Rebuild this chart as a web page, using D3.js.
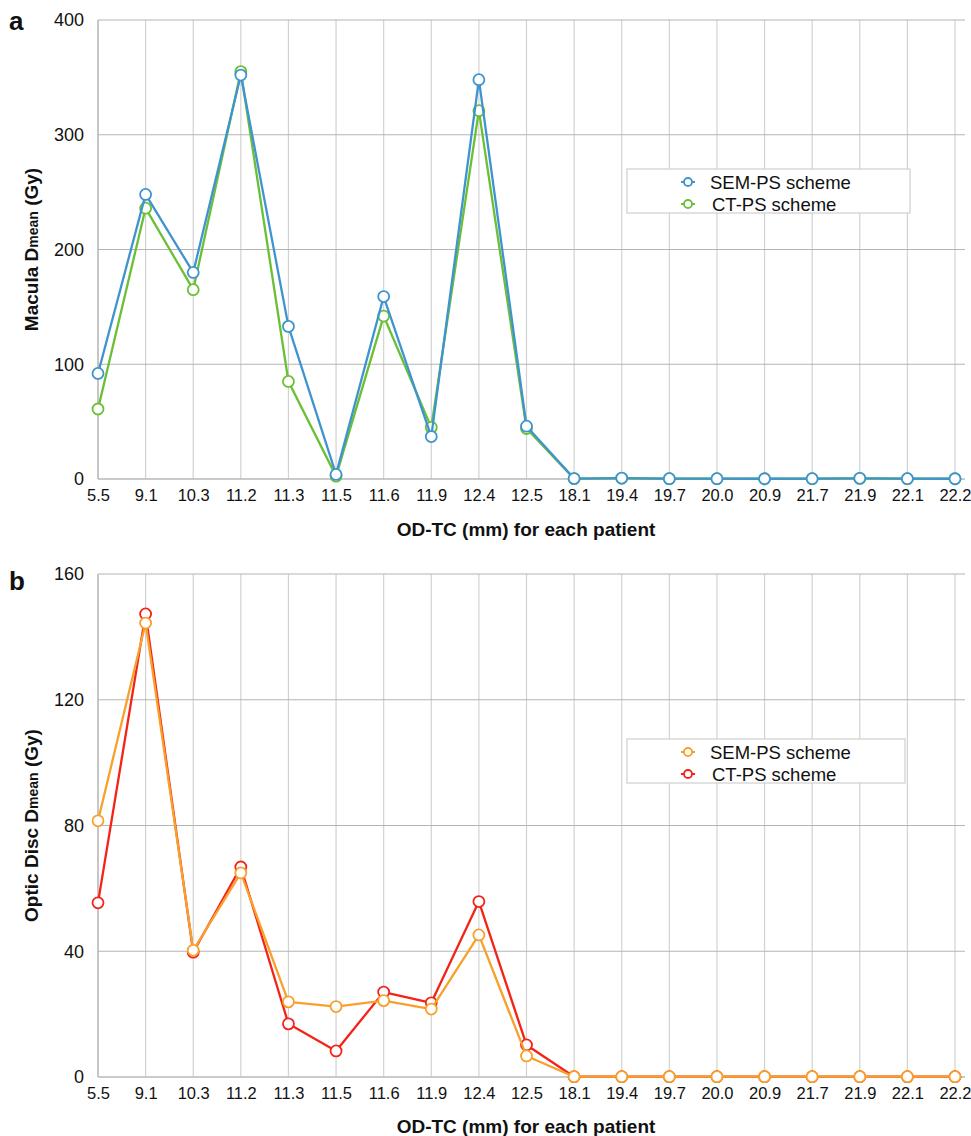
<!DOCTYPE html>
<html>
<head>
<meta charset="utf-8">
<script src="https://cdn.jsdelivr.net/npm/d3@7"></script>
<style>
  html, body { margin: 0; padding: 0; background: #fff; }
  svg { display: block; font-family: "Liberation Sans", Arial, Helvetica, sans-serif; }
</style>
</head>
<body>
<svg id="chart" width="971" height="1136"></svg>
<script>
// OD-TC distance (mm) for each patient
const categories = ["5.5", "9.1", "10.3", "11.2", "11.3", "11.5", "11.6", "11.9", "12.4", "12.5",
                    "18.1", "19.4", "19.7", "20.0", "20.9", "21.7", "21.9", "22.1", "22.2"];

// Macula mean dose (Gy)
const maculaSem = [92, 248, 180, 352, 133, 4, 159, 37, 348, 46, 0.4, 0.8, 0.3, 0.3, 0.2, 0.3, 0.6, 0.3, 0.2];
const maculaCt  = [61, 236, 165, 355, 85, 2.5, 142, 45, 321, 44, 0.3, 0.6, 0.2, 0.2, 0.2, 0.2, 0.5, 0.2, 0.2];

// Optic disc mean dose (Gy)
const discSem = [81.5, 144.4, 40.3, 64.9, 23.9, 22.4, 24.3, 21.6, 45.2, 6.7, 0.1, 0.1, 0.1, 0.1, 0.1, 0.1, 0.1, 0.1, 0.1];
const discCt  = [55.4, 147.3, 39.7, 66.8, 16.9, 8.3, 27.0, 23.6, 55.8, 10.2, 0.1, 0.1, 0.1, 0.1, 0.1, 0.1, 0.1, 0.1, 0.1];

const maculaTicks = [0, 100, 200, 300, 400];
const discTicks = [0, 40, 80, 120, 160];

const seriesNames = ["SEM-PS scheme", "CT-PS scheme"];

const svg = d3.select("#chart");

function drawPanel(opts) {
  const { letter, letterY, top, bottom, ticks, yMax, sem, ct, semColor, ctColor, yTitle, legendBox, xTitleY } = opts;
  const left = 98, right = 955;
  const g = svg.append("g");

  const x = d3.scalePoint().domain(categories).range([left, right]);
  const y = d3.scaleLinear().domain([0, yMax]).range([bottom, top]);

  // vertical grid lines at each category
  g.append("g").selectAll("line").data(categories.slice(1)).join("line")
    .attr("x1", d => x(d)).attr("x2", d => x(d))
    .attr("y1", top).attr("y2", bottom)
    .attr("stroke", "#d2d2d2").attr("stroke-width", 1.2);

  // horizontal grid lines at y ticks
  g.append("g").selectAll("line").data(ticks.slice(1)).join("line")
    .attr("x1", left).attr("x2", 965)
    .attr("y1", d => y(d)).attr("y2", d => y(d))
    .attr("stroke", "#b4b4b4").attr("stroke-width", 1.2);

  // axis lines
  g.append("line").attr("x1", left).attr("x2", left).attr("y1", top).attr("y2", bottom)
    .attr("stroke", "#b8b8b8").attr("stroke-width", 1.6);
  g.append("line").attr("x1", left).attr("x2", 965).attr("y1", bottom).attr("y2", bottom)
    .attr("stroke", "#b8b8b8").attr("stroke-width", 1.6);

  // y tick labels
  const yAxis = d3.axisLeft(y).tickValues(ticks).tickSize(0).tickPadding(0).tickFormat(d3.format("d"));
  const ya = g.append("g").attr("transform", `translate(84,0)`).call(yAxis);
  ya.select(".domain").remove();
  ya.selectAll("text").attr("font-size", 18).attr("fill", "#111")
    .attr("font-family", "Liberation Sans, Arial, sans-serif");

  // x tick labels
  const xAxis = d3.axisBottom(x).tickSize(0).tickPadding(0);
  const xa = g.append("g").attr("transform", `translate(0,${bottom + 10})`).call(xAxis);
  xa.select(".domain").remove();
  xa.selectAll("text").attr("font-size", 16.5).attr("fill", "#111")
    .attr("font-family", "Liberation Sans, Arial, sans-serif");

  // x axis title
  g.append("text").attr("x", 526).attr("y", xTitleY)
    .attr("text-anchor", "middle").attr("font-size", 19).attr("font-weight", "bold")
    .attr("fill", "#111").text("OD-TC (mm) for each patient");

  // y axis title with subscript "mean"
  const yt = g.append("text")
    .attr("transform", `translate(38,${(top + bottom) / 2}) rotate(-90)`)
    .attr("text-anchor", "middle").attr("font-size", 19).attr("font-weight", "bold").attr("fill", "#111");
  yt.append("tspan").text(yTitle[0] + " D");
  yt.append("tspan").attr("font-size", 14).text("mean");
  yt.append("tspan").text(" (Gy)");

  // panel letter
  g.append("text").attr("x", 9).attr("y", letterY).attr("font-size", 26).attr("font-weight", "bold")
    .attr("fill", "#111").text(letter);

  // series
  const line = d3.line().x((d, i) => x(categories[i])).y(d => y(d));
  [[ct, ctColor], [sem, semColor]].forEach(([vals, color]) => {
    g.append("path").datum(vals).attr("d", line)
      .attr("fill", "none").attr("stroke", color).attr("stroke-width", 2.3)
      .attr("stroke-linejoin", "round");
    g.append("g").selectAll("circle").data(vals).join("circle")
      .attr("cx", (d, i) => x(categories[i])).attr("cy", d => y(d)).attr("r", 5.5)
      .attr("fill", "#fff").attr("stroke", color).attr("stroke-width", 1.8);
  });

  // legend
  const [lx, ly, lw, lh] = legendBox;
  const lg = g.append("g");
  lg.append("rect").attr("x", lx).attr("y", ly).attr("width", lw).attr("height", lh)
    .attr("fill", "#fff").attr("stroke", "#cfcfcf").attr("stroke-width", 1.2);
  [[seriesNames[0], semColor], [seriesNames[1], ctColor]].forEach(([name, color], i) => {
    const cy = ly + 13 + i * 22;
    const mx = lx + 61;
    lg.append("line").attr("x1", mx - 7).attr("x2", mx + 7).attr("y1", cy).attr("y2", cy)
      .attr("stroke", color).attr("stroke-width", 2);
    lg.append("circle").attr("cx", mx).attr("cy", cy).attr("r", 4)
      .attr("fill", "#fff").attr("stroke", color).attr("stroke-width", 1.8);
    lg.append("text").attr("x", lx + 83 + i * 2).attr("y", cy + 6.5).attr("font-size", 18.5)
      .attr("fill", "#111").text(name);
  });
}

drawPanel({
  letter: "a", letterY: 30, top: 20, bottom: 479, ticks: maculaTicks, yMax: 400,
  sem: maculaSem, ct: maculaCt, semColor: "#3f94cf", ctColor: "#6bbf35",
  yTitle: ["Macula"], legendBox: [627, 169, 283, 44], xTitleY: 536
});

drawPanel({
  letter: "b", letterY: 590, top: 574, bottom: 1077, ticks: discTicks, yMax: 160,
  sem: discSem, ct: discCt, semColor: "#f8a02c", ctColor: "#f42318",
  yTitle: ["Optic Disc"], legendBox: [627, 739, 278, 44], xTitleY: 1133
});
</script>
</body>
</html>
